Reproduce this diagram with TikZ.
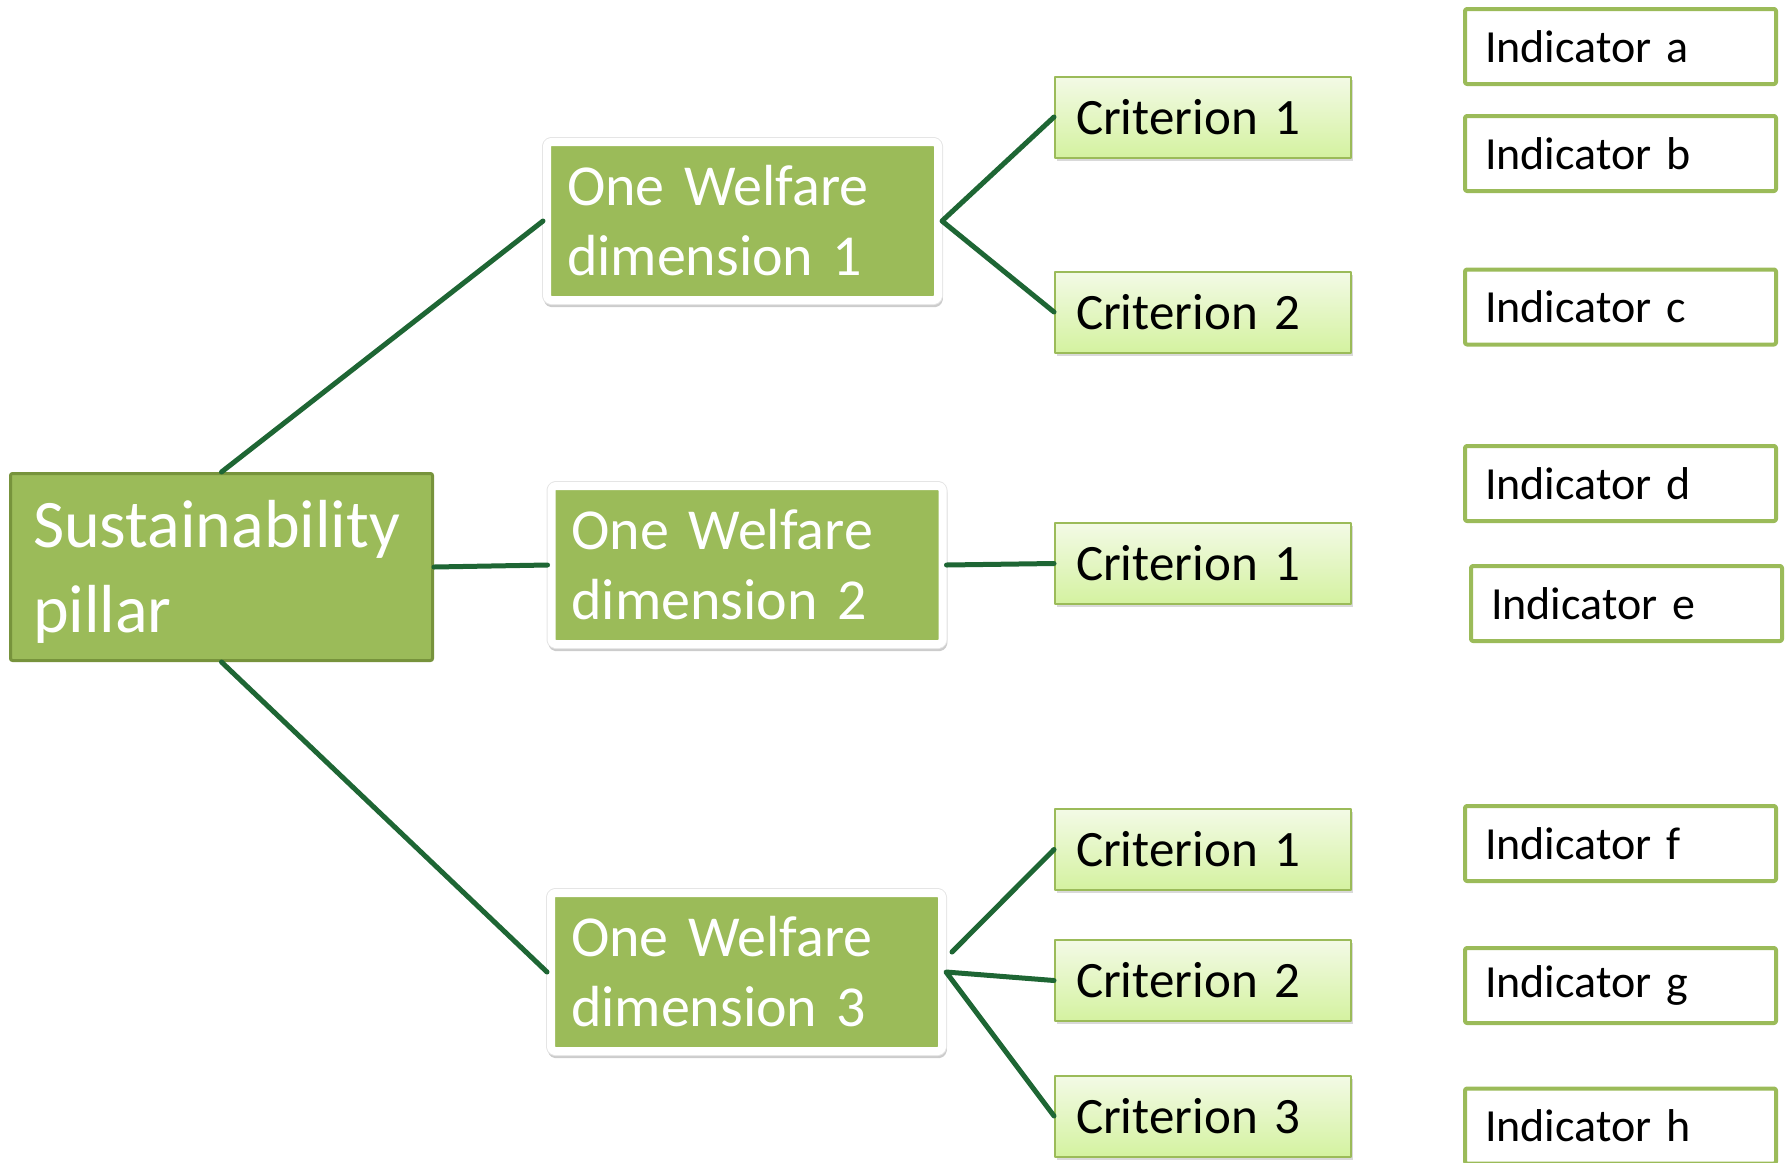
\documentclass[tikz,border=0pt]{standalone}
\usepackage{fontspec}
\setmainfont{Carlito}
\usetikzlibrary{shadows}
\definecolor{owgreen}{HTML}{9BBB59}
\definecolor{owdark}{HTML}{77933C}
\definecolor{owline}{HTML}{1E6634}
\definecolor{crittop}{HTML}{F3FAE6}
\definecolor{critbot}{HTML}{D4F2A0}
\begin{document}
\begin{tikzpicture}[x=0.5pt, y=-0.5pt, line join=round, line cap=round,
	pillar/.style={draw=owdark, line width=1.5pt, fill=owgreen, text=white, rounded corners=1pt,
		minimum height=93.5pt, text width=188.5pt, inner xsep=11.25pt, align=left, text depth=43pt,
		font=\fontsize{34}{42.5}\selectfont},
	dim/.style={draw=white, line width=4pt, fill=owgreen, text=white, rounded corners=2pt,
		preaction={draw=black!20, fill=black!20, line width=4pt, transform canvas={xshift=0.4pt, yshift=-1.6pt}},
		preaction={draw=black!10, line width=5pt},
		minimum height=79pt, text width=175.5pt, inner xsep=10pt, align=left,
		font=\fontsize{29}{35}\selectfont},
	crit/.style={draw=owgreen, line width=1pt, top color=crittop, bottom color=critbot,
		drop shadow={opacity=0.3, shadow xshift=1pt, shadow yshift=-1.5pt},
		minimum height=40.5pt, text width=127pt, inner xsep=10.5pt, align=left,
		font=\fontsize{25.5}{30}\selectfont},
	ind/.style={draw=owgreen, line width=2pt, fill=white, rounded corners=1pt,
		minimum height=37.5pt, text width=135.5pt, inner xsep=10pt, align=left,
		font=\fontsize{23}{28}\selectfont},
	link/.style={draw=owline, line width=2.5pt}]
	\useasboundingbox (0,0) rectangle (1787,1162);
	\clip (0,0) rectangle (1787,1162);
	% pillar and dimensions
	\node[pillar] (pillar) at (221.5,567) {Sustainability\\pillar};
	\node[dim] (dim1) at (742.5,221) {One Welfare\\dimension 1};
	\node[dim] (dim2) at (747,565) {One Welfare\\dimension 2};
	\node[dim] (dim3) at (746.5,972) {One Welfare\\dimension 3};
	% criteria
	\node[crit] (c11) at (1203,117) {Criterion 1};
	\node[crit] (c12) at (1203,312) {Criterion 2};
	\node[crit] (c21) at (1203,563.5) {Criterion 1};
	\node[crit] (c31) at (1203,849.5) {Criterion 1};
	\node[crit] (c32) at (1203,980.5) {Criterion 2};
	\node[crit] (c33) at (1203,1116) {Criterion 3};
	% indicators
	\foreach \n/\x/\y in {a/1620.5/46.5, b/1620.5/153.5, c/1620.5/307, d/1620.5/483.5,
		e/1626.5/603.5, f/1620.5/843.5, g/1620.5/985.5, h/1620.5/1126}
	\node[ind] (i\n) at (\x,\y) {Indicator \n};
	% connectors
	\coordinate (d3top) at (952,952);
	\draw[link] (pillar.north) -- (dim1.west);
	\draw[link] (pillar.east) -- (dim2.west);
	\draw[link] (pillar.south) -- (dim3.west);
	\draw[link] (c11.west) -- (dim1.east) -- (c12.west);
	\draw[link] (dim2.east) -- (c21.west);
	\draw[link] (d3top) -- (c31.west);
	\draw[link] (c32.west) -- (dim3.east) -- (c33.west);
\end{tikzpicture}
\end{document}
